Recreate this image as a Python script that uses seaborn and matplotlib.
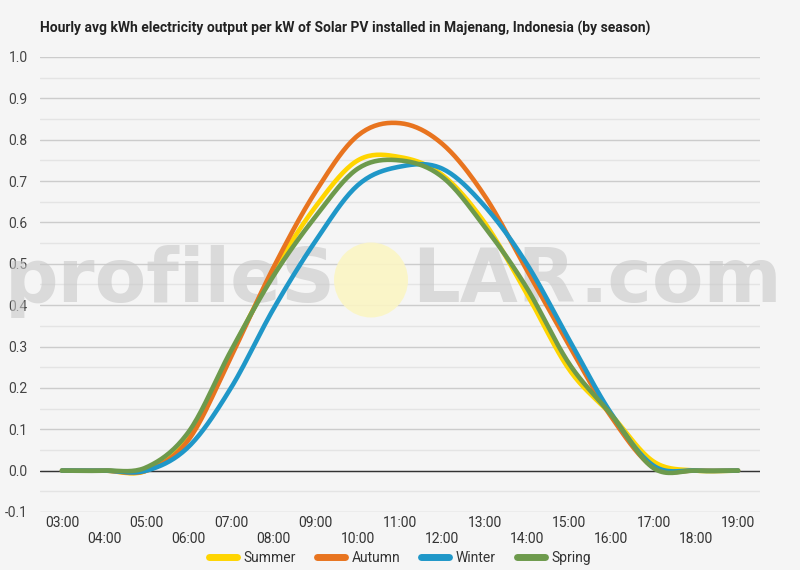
import numpy as np
import pandas as pd
import matplotlib
matplotlib.use("Agg")
import matplotlib.pyplot as plt
from matplotlib.patches import Ellipse
import seaborn as sns

###############################################################################
# Data: hourly average kWh per kW installed

hours = list(range(3, 20))
hour_labels = ["%02d:00" % h for h in hours]

summer = [0.0, 0.0, 0.0, 0.087, 0.285, 0.48, 0.638, 0.75, 0.758, 0.715, 0.60,
          0.428, 0.245, 0.135, 0.022, 0.0, 0.0]
autumn = [0.0, 0.0, 0.0, 0.075, 0.275, 0.49, 0.674, 0.81, 0.84, 0.79, 0.665,
          0.485, 0.303, 0.13, 0.008, 0.0, 0.0]
winter = [0.0, 0.0, 0.0, 0.058, 0.20, 0.39, 0.555, 0.69, 0.735, 0.73, 0.64,
          0.50, 0.317, 0.138, 0.012, 0.0, 0.0]
spring = [0.0, 0.0, 0.008, 0.094, 0.29, 0.47, 0.614, 0.73, 0.75, 0.71, 0.59,
          0.442, 0.259, 0.135, 0.006, 0.0, 0.0]

seasons = ["Summer", "Autumn", "Winter", "Spring"]
colors = ["#ffd500", "#e8741f", "#1f97c8", "#6d9a4c"]

title = "Hourly avg kWh electricity output per kW of Solar PV installed in Majenang, Indonesia (by season)"


def smooth(x, y, n=20):
    '''
    Catmull-Rom style curve through the hourly points (like the "function"
    curve type of the original chart)
    '''
    x = np.asarray(x, float)
    y = np.asarray(y, float)
    yp = np.concatenate([[y[0]], y, [y[-1]]])
    xs, ys = [], []
    for i in range(len(y) - 1):
        p0, p1, p2, p3 = yp[i], yp[i + 1], yp[i + 2], yp[i + 3]
        m1 = (p2 - p0) / 2
        m2 = (p3 - p1) / 2
        t = np.linspace(0, 1, n, endpoint=False)
        h00 = 2 * t**3 - 3 * t**2 + 1
        h10 = t**3 - 2 * t**2 + t
        h01 = -2 * t**3 + 3 * t**2
        h11 = t**3 - t**2
        xs.append(x[i] + t * (x[i + 1] - x[i]))
        ys.append(h00 * p1 + h10 * m1 + h01 * p2 + h11 * m2)
    xs.append([x[-1]])
    ys.append([y[-1]])
    return np.concatenate(xs), np.concatenate(ys)


frames = []
for name, vals in zip(seasons, [summer, autumn, winter, spring]):
    sx, sy = smooth(hours, vals)
    frames.append(pd.DataFrame({"hour": sx, "kwh": sy, "season": name}))
df = pd.concat(frames, ignore_index=True)

###############################################################################
# Plot

sns.set_style("white")
plt.rcParams["font.family"] = ["Roboto", "DejaVu Sans"]

bg = "#f5f5f5"
fig = plt.figure(figsize=(8, 5.7), dpi=100, facecolor=bg)
ax = fig.add_axes([0.05, 0.1018, 0.9, 0.7982], facecolor=bg)

sns.lineplot(data=df, x="hour", y="kwh", hue="season", hue_order=seasons,
             palette=colors, linewidth=3.3, ax=ax, legend=False, zorder=3,
             estimator=None, sort=False)

ax.set_xlim(2.48, 19.52)
ax.set_ylim(-0.1, 1.0)

yt = np.round(np.arange(-0.1, 1.01, 0.1), 1)
ax.set_yticks(yt)
ax.set_yticklabels(["%.1f" % v for v in yt])
ax.set_yticks(np.round(np.arange(-0.05, 1.0, 0.1), 2), minor=True)
ax.grid(axis="y", which="major", color="#cccccc", linewidth=1)
ax.grid(axis="y", which="minor", color="#e4e4e4", linewidth=1)
ax.grid(axis="x", visible=False)
ax.axhline(0, color="#333333", linewidth=1, zorder=2)
ax.set_axisbelow(True)

ax.set_xticks(hours)
ax.set_xticklabels([lab if i % 2 == 0 else "\n" + lab
                    for i, lab in enumerate(hour_labels)])
ax.tick_params(axis="x", length=0, pad=3, labelsize=10, labelcolor="#333333")
ax.tick_params(axis="y", length=0, pad=9, labelsize=10, labelcolor="#444444")
ax.tick_params(axis="y", which="minor", length=0)
for s in ax.spines.values():
    s.set_visible(False)
ax.set_xlabel("")
ax.set_ylabel("")

# title
fig.text(40 / 800, 1 - 28 / 570, title, fontsize=10, fontweight="bold",
         color="#222222", ha="left", va="center")

# legend
handles = [plt.Line2D([], [], color=c, linewidth=5) for c in colors]
fig.legend(handles, seasons, loc="center", bbox_to_anchor=(0.5, 1 - 558 / 570),
           ncol=4, frameon=False, fontsize=10, handlelength=2.0,
           handletextpad=0.5, columnspacing=1.5, labelcolor="#333333")

# watermark
wm = dict(fontsize=54, color="#c8c8c8", alpha=0.6, ha="left",
          va="baseline", family="DejaVu Sans", fontweight="bold", zorder=2.5)
base = 1 - 302 / 570
ax.text(5 / 800, base, "profile", transform=fig.transFigure, **wm)
ax.text(281 / 800, base, "S", transform=fig.transFigure, **wm)
ax.text(412 / 800, base, "LAR", transform=fig.transFigure, **wm)
ax.text(579 / 800, base, ".com", transform=fig.transFigure, **wm)
ax.add_patch(Ellipse((371 / 800, 1 - 280 / 570), 74 / 800, 75 / 570,
                     transform=fig.transFigure, color="#fbf5c4", alpha=0.9,
                     zorder=2.4, linewidth=0))

fig.savefig("out.png", dpi=100, facecolor=bg)
